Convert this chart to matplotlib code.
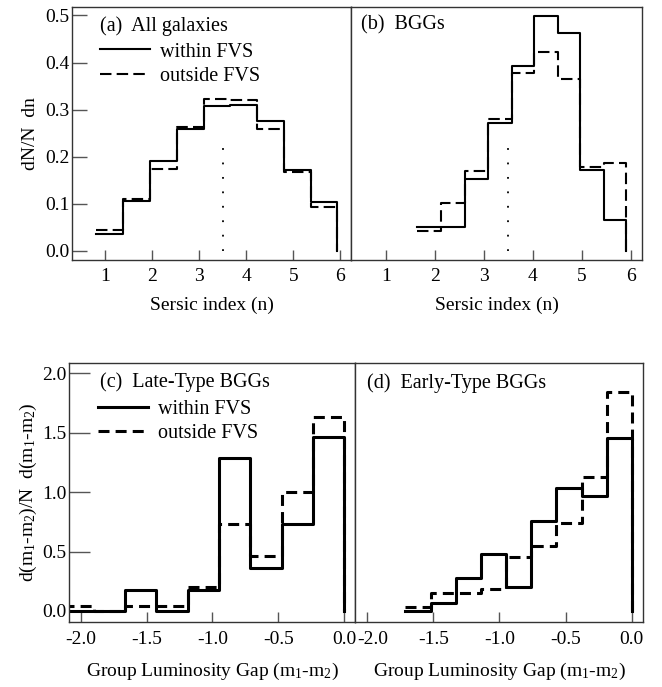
import matplotlib
matplotlib.use("Agg")
import matplotlib.pyplot as plt
import matplotlib.transforms as mtransforms

plt.rcParams['font.family'] = ['Liberation Serif', 'DejaVu Serif']
plt.rcParams['mathtext.fontset'] = 'custom'
plt.rcParams['mathtext.rm'] = 'Liberation Serif'
plt.rcParams['mathtext.it'] = 'Liberation Serif:italic'

# (a) all galaxies, Sersic index
edges_a = [0.81, 1.38, 1.95, 2.52, 3.09, 3.66, 4.23, 4.80, 5.37, 5.94]
within_a = [0.036, 0.105, 0.190, 0.259, 0.307, 0.309, 0.276, 0.171, 0.103]
outside_a = [0.043, 0.110, 0.174, 0.263, 0.323, 0.320, 0.259, 0.167, 0.092]

# (b) BGGs, Sersic index
edges_b = [1.645, 2.13, 2.62, 3.08, 3.57, 4.03, 4.51, 4.97, 5.45, 5.91]
within_b = [0.051, 0.051, 0.153, 0.271, 0.392, 0.499, 0.462, 0.171, 0.066]
outside_b = [0.041, 0.102, 0.169, 0.279, 0.378, 0.422, 0.365, 0.178, 0.187]

# (c) late-type BGGs, luminosity gap
edges_c = [-2.138, -1.900, -1.663, -1.425, -1.188, -0.950, -0.713, -0.475, -0.238, 0.0]
within_c = [0.0, 0.0, 0.177, 0.0, 0.18, 1.285, 0.36, 0.735, 1.467]
outside_c = [0.045, 0.0, 0.045, 0.045, 0.205, 0.73, 0.465, 1.0, 1.63]

# (d) early-type BGGs, luminosity gap
edges_d = [-1.71, -1.52, -1.33, -1.14, -0.95, -0.76, -0.57, -0.38, -0.19, 0.0]
within_d = [0.0, 0.065, 0.275, 0.48, 0.2, 0.76, 1.033, 0.97, 1.454]
outside_d = [0.036, 0.149, 0.154, 0.183, 0.457, 0.547, 0.738, 1.13, 1.84]

median_n = 3.5
median_top = 0.23

fig = plt.figure(figsize=(6.62, 6.87), dpi=100)
ax_a = fig.add_axes([0.1088, 0.6215, 0.4214, 0.3683])
ax_b = fig.add_axes([0.5302, 0.6215, 0.4396, 0.3683])
ax_c = fig.add_axes([0.1047, 0.0951, 0.4323, 0.3761])
ax_d = fig.add_axes([0.5370, 0.0951, 0.4348, 0.3761])

spine_col = '#333333'
tick_col = '#555555'


def draw(ax, edges, within, outside, lw, dash):
    ax.step(edges, list(within) + [0], where='post', color='black', lw=lw,
            label='within FVS')
    ax.step(edges, list(outside) + [0], where='post', color='black', lw=lw,
            dashes=dash, label='outside FVS')
    for s in ax.spines.values():
        s.set_color(spine_col)
        s.set_linewidth(1.0)
    ax.tick_params(direction='in', labelsize=14, color=tick_col, width=1.0)


draw(ax_a, edges_a, within_a, outside_a, 1.5, (5.5, 2.5))
draw(ax_b, edges_b, within_b, outside_b, 1.5, (5.5, 2.5))
draw(ax_c, edges_c, within_c, outside_c, 2.2, (3.6, 2.0))
draw(ax_d, edges_d, within_d, outside_d, 2.2, (3.6, 2.0))

for ax in (ax_a, ax_b):
    ax.plot([median_n, median_n], [0, median_top], color='black', lw=1.3,
            ls=(0, (1, 7)))
    ax.set_xlim(0.29, 6.23)
    ax.set_ylim(-0.02, 0.518)
    ax.set_xticks([1, 2, 3, 4, 5, 6])
    ax.set_xlabel('Sersic index (n)', fontsize=14, labelpad=8)
    ax.tick_params(axis='x', length=7, pad=6)
    ax.tick_params(axis='y', length=11, pad=2)

for ax in (ax_c, ax_d):
    ax.set_xlim(-2.087, 0.087)
    ax.set_ylim(-0.09, 2.085)
    ax.set_xticks([-2.0, -1.5, -1.0, -0.5, 0.0])
    ax.set_xticklabels(['-2.0', '-1.5', '-1.0', '-0.5', '0.0'])
    ax.set_xlabel('Group Luminosity Gap (m$_\\mathrm{1}$-m$_\\mathrm{2}$)',
                  fontsize=14, labelpad=9)
    ax.tick_params(axis='x', length=7, pad=7)
    ax.tick_params(axis='y', length=15, pad=2)

# the first gap label of panel (d) sits a little right, as in the original
shift = mtransforms.ScaledTranslation(6 / 100, 0, fig.dpi_scale_trans)
lbl = ax_d.get_xticklabels()[0]
lbl.set_transform(lbl.get_transform() + shift)

ax_a.set_yticks([0.0, 0.1, 0.2, 0.3, 0.4, 0.5])
ax_a.set_yticklabels(['0.0', '0.1', '0.2', '0.3', '0.4', '0.5'])
ax_c.set_yticks([0.0, 0.5, 1.0, 1.5, 2.0])
ax_c.set_yticklabels(['0.0', '0.5', '1.0', '1.5', '2.0'])
ax_b.set_yticks([])
ax_d.set_yticks([])

ax_a.set_ylabel('dN/N  dn', fontsize=14, labelpad=4)
ax_c.set_ylabel('d(m$_\\mathrm{1}$-m$_\\mathrm{2}$)/N  d(m$_\\mathrm{1}$-m$_\\mathrm{2}$)',
                fontsize=14, labelpad=2)

ax_a.text(0.10, 0.905, '(a)  All galaxies', transform=ax_a.transAxes,
          fontsize=14.5, va='baseline')
ax_b.text(0.033, 0.912, '(b)  BGGs', transform=ax_b.transAxes,
          fontsize=14.5, va='baseline')
ax_c.text(0.107, 0.909, '(c)  Late-Type BGGs', transform=ax_c.transAxes,
          fontsize=14.5, va='baseline')
ax_d.text(0.04, 0.903, '(d)  Early-Type BGGs', transform=ax_d.transAxes,
          fontsize=14.5, va='baseline')

for ax in (ax_a, ax_c):
    ax.legend(loc='upper left', bbox_to_anchor=(0.10, 0.86), frameon=False,
              fontsize=14.5, borderpad=0, borderaxespad=0, labelspacing=0.25,
              handlelength=2.5, handletextpad=0.5)

fig.savefig('out.png', dpi=100)
